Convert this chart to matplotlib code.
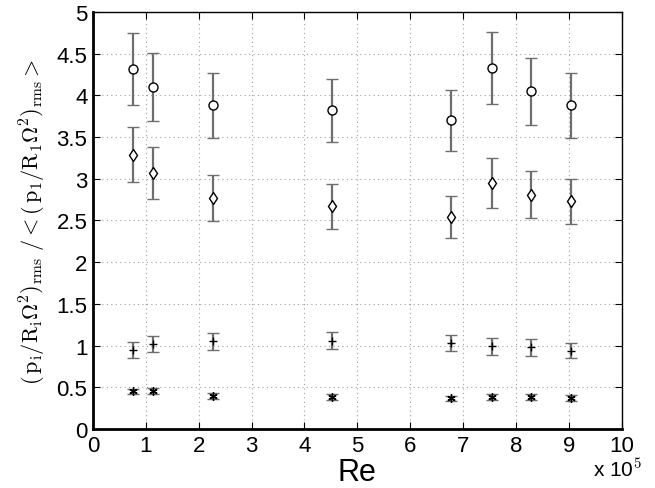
import numpy as np
import matplotlib
matplotlib.use('Agg')
import matplotlib.pyplot as plt

plt.rcParams['font.family'] = ['Liberation Sans', 'DejaVu Sans']
plt.rcParams['mathtext.fontset'] = 'cm'

# Re in units of 1e5
re = np.array([0.75, 1.13, 2.27, 4.53, 6.78, 7.54, 8.29, 9.04])

# circles
p_circ = np.array([4.32, 4.10, 3.88, 3.82, 3.70, 4.33, 4.05, 3.88])
e_circ = np.array([0.43, 0.41, 0.39, 0.38, 0.37, 0.43, 0.40, 0.39])
# diamonds
p_diam = np.array([3.29, 3.07, 2.77, 2.67, 2.54, 2.95, 2.81, 2.73])
e_diam = np.array([0.33, 0.31, 0.28, 0.27, 0.25, 0.30, 0.28, 0.27])
# plus
p_plus = np.array([0.95, 1.02, 1.05, 1.06, 1.03, 0.99, 0.98, 0.94])
e_plus = np.array([0.095, 0.10, 0.105, 0.105, 0.10, 0.10, 0.10, 0.093])
# asterisk
p_star = np.array([0.45, 0.455, 0.40, 0.38, 0.37, 0.38, 0.38, 0.37])
e_star = np.array([0.035, 0.035, 0.035, 0.035, 0.03, 0.035, 0.035, 0.035])

fig = plt.figure(figsize=(6.55, 4.89), dpi=100)
ax = fig.add_axes([0.142, 0.1207, 0.807, 0.8527])


def draw(y, err, mk, ms, fc):
    line, caps, bars = ax.errorbar(re, y, yerr=err, fmt='none', ecolor='#6e6e6e',
                                   elinewidth=1.6, capsize=4, capthick=1.0, zorder=3)
    for c in caps:
        c.set_color('black')
    ax.plot(re, y, linestyle='none', marker=mk, markersize=ms, markerfacecolor=fc,
            markeredgecolor='black', markeredgewidth=1.0, color='black', zorder=4)


draw(p_circ, e_circ, 'o', 6.5, 'white')
draw(p_diam, e_diam, 'd', 6.5, 'white')
draw(p_plus, e_plus, '+', 6, 'black')
draw(p_star, e_star, (6, 2, 0), 6, 'black')

ax.set_xlim(0, 10)
ax.set_ylim(0, 5)
ax.set_xticks(range(0, 11))
ax.set_yticks(np.arange(0, 5.01, 0.5))
ax.set_yticklabels(['0', '0.5', '1', '1.5', '2', '2.5', '3', '3.5', '4', '4.5', '5'])
ax.grid(True, linestyle=(0, (1, 3)), color='#a0a0a0', linewidth=0.8)
ax.set_axisbelow(True)
ax.tick_params(direction='in', length=5, top=True, right=True, labelsize=16, pad=4)

for s in ['bottom', 'left']:
    ax.spines[s].set_linewidth(2.0)
for s in ['top', 'right']:
    ax.spines[s].set_linewidth(1.0)

ax.set_xlabel('Re', fontsize=22, labelpad=1)
ax.set_ylabel(r'$(\,\mathrm{p_i/R_i}\mathbf{\Omega}^2)_{\mathrm{rms}}\ /<(\,\mathrm{p_1/R_1}\mathbf{\Omega}^2)_{\mathrm{rms}}>$',
              fontsize=16, labelpad=6)

fig.text(593 / 655, 1 - 477 / 489, r'x 10$^5$', fontsize=15, ha='left', va='baseline')

fig.savefig('out.png', dpi=100)
